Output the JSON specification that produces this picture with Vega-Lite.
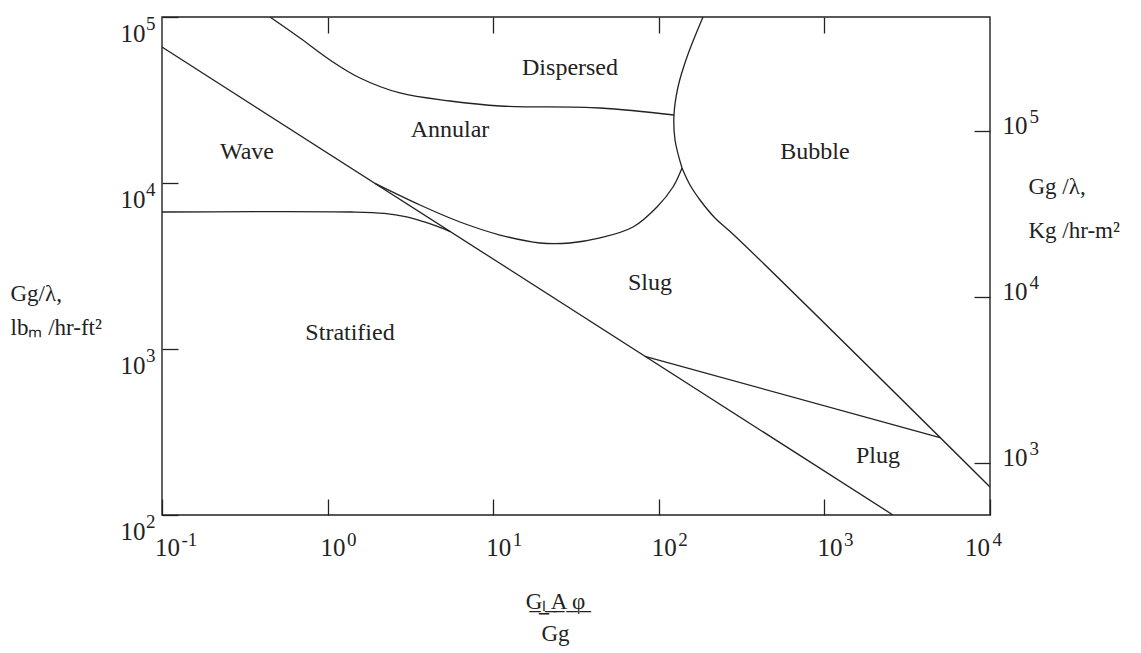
{
  "$schema": "https://vega.github.io/schema/vega-lite/v6.json",
  "width": 828,
  "height": 498,
  "autosize": {"type": "none"},
  "padding": {"left": 162, "top": 17, "right": 151, "bottom": 138},
  "background": "white",
  "config": {
    "view": {"stroke": null},
    "font": "Liberation Serif",
    "axis": {
      "grid": false,
      "domain": false,
      "tickColor": "#222",
      "tickWidth": 1.3,
      "tickSize": -16,
      "labelColor": "#222",
      "titleColor": "#222",
      "labelFont": "Liberation Serif",
      "titleFont": "Liberation Serif",
      "titleFontWeight": "normal",
      "labelOverlap": false,
      "labelFlush": false,
      "labelBaseline": "alphabetic"
    }
  },
  "datasets": {
    "straight": [
      {"boundary": "diagonal", "k": 0, "x": 0.1, "y": 65940},
      {"boundary": "diagonal", "k": 1, "x": 2595, "y": 100},
      {"boundary": "plug", "k": 0, "x": 82.5, "y": 904},
      {"boundary": "plug", "k": 1, "x": 4989, "y": 292}
    ],
    "curved": [
      {"boundary": "wave", "k": 0, "x": 0.1, "y": 6689},
      {"boundary": "wave", "k": 1, "x": 1.4, "y": 6689},
      {"boundary": "wave", "k": 2, "x": 2.2, "y": 6560},
      {"boundary": "wave", "k": 3, "x": 3.0, "y": 6250},
      {"boundary": "wave", "k": 4, "x": 3.8, "y": 5850},
      {"boundary": "wave", "k": 5, "x": 4.6, "y": 5480},
      {"boundary": "wave", "k": 6, "x": 5.5, "y": 5099},

      {"boundary": "annular", "k": 0, "x": 1.932, "y": 9950},
      {"boundary": "annular", "k": 1, "x": 3.614, "y": 7371},
      {"boundary": "annular", "k": 2, "x": 6.3, "y": 5823},
      {"boundary": "annular", "k": 3, "x": 10.99, "y": 4861},
      {"boundary": "annular", "k": 4, "x": 19.17, "y": 4351},
      {"boundary": "annular", "k": 5, "x": 29.09, "y": 4351},
      {"boundary": "annular", "k": 6, "x": 44.15, "y": 4664},
      {"boundary": "annular", "k": 7, "x": 69.9, "y": 5430},
      {"boundary": "annular", "k": 8, "x": 97.5, "y": 7167},
      {"boundary": "annular", "k": 9, "x": 121.8, "y": 9461},
      {"boundary": "annular", "k": 10, "x": 138.1, "y": 12312},

      {"boundary": "bubble_arc", "k": 0, "x": 184.9, "y": 100000},
      {"boundary": "bubble_arc", "k": 1, "x": 148.0, "y": 57410},
      {"boundary": "bubble_arc", "k": 2, "x": 130.6, "y": 37870},
      {"boundary": "bubble_arc", "k": 3, "x": 123.5, "y": 25680},
      {"boundary": "bubble_arc", "k": 4, "x": 125.3, "y": 18160},
      {"boundary": "bubble_arc", "k": 5, "x": 138.1, "y": 12312},

      {"boundary": "dispersed", "k": 0, "x": 0.449, "y": 100000},
      {"boundary": "dispersed", "k": 1, "x": 0.681, "y": 74720},
      {"boundary": "dispersed", "k": 2, "x": 1.034, "y": 55080},
      {"boundary": "dispersed", "k": 3, "x": 1.569, "y": 42910},
      {"boundary": "dispersed", "k": 4, "x": 2.736, "y": 34850},
      {"boundary": "dispersed", "k": 5, "x": 5.485, "y": 31190},
      {"boundary": "dispersed", "k": 6, "x": 10.99, "y": 29100},
      {"boundary": "dispersed", "k": 7, "x": 44.15, "y": 28300},
      {"boundary": "dispersed", "k": 8, "x": 123.5, "y": 25680},

      {"boundary": "bubble_slug", "k": 0, "x": 138.1, "y": 12312},
      {"boundary": "bubble_slug", "k": 1, "x": 154.3, "y": 9727},
      {"boundary": "bubble_slug", "k": 2, "x": 177.4, "y": 7900},
      {"boundary": "bubble_slug", "k": 3, "x": 218.4, "y": 6154},
      {"boundary": "bubble_slug", "k": 4, "x": 288.4, "y": 4795},
      {"boundary": "bubble_slug", "k": 5, "x": 10000, "y": 147.5}
    ],
    "regions": [
      {"region": "Wave", "x": 0.326, "y": 15370},
      {"region": "Annular", "x": 5.485, "y": 20860},
      {"region": "Dispersed", "x": 29.1, "y": 49290},
      {"region": "Bubble", "x": 877.5, "y": 15370},
      {"region": "Slug", "x": 88.5, "y": 2498},
      {"region": "Stratified", "x": 1.366, "y": 1248},
      {"region": "Plug", "x": 2107, "y": 226.7}
    ],
    "frame": [
      {"x": 0.1, "x2": 10000, "y": 100, "y2": 100000}
    ]
  },
  "resolve": {"axis": {"x": "independent", "y": "independent"}},
  "layer": [
    {
      "data": {"name": "straight"},
      "mark": {"type": "line", "color": "#222", "strokeWidth": 1.3, "clip": true},
      "encoding": {
        "x": {
          "field": "x",
          "type": "quantitative",
          "scale": {"type": "log", "domain": [0.1, 10000], "nice": false},
          "axis": {
            "orient": "bottom",
            "values": [0.1, 1, 10, 100, 1000, 10000],
            "labelExpr": "'10'",
            "labelFontSize": 25,
            "labelAlign": "center",
            "labelPadding": 56,
            "labelOffset": {"condition": {"test": "datum.value > 5000", "value": -13}, "value": 5},
            "title": ["G̲ₗ̲ ̲A̲ ̲φ̲", "Gg"],
            "titleFontSize": 23,
            "titleX": 393,
            "titleY": 93,
            "titleAlign": "center",
            "titleBaseline": "alphabetic",
            "titleLineHeight": 32
          }
        },
        "y": {
          "field": "y",
          "type": "quantitative",
          "scale": {"type": "log", "domain": [100, 100000], "nice": false},
          "axis": {
            "orient": "left",
            "values": [100, 1000, 10000, 100000],
            "labelExpr": "'10'",
            "labelFontSize": 25,
            "labelAlign": "right",
            "labelPadding": 33,
            "labelOffset": 24,
            "title": ["Gg/λ,", "lbₘ /hr-ft²"],
            "titleFontSize": 23,
            "titleAngle": 0,
            "titleAlign": "left",
            "titleBaseline": "alphabetic",
            "titleX": -152,
            "titleY": 283,
            "titleLineHeight": 34
          }
        },
        "detail": {"field": "boundary", "type": "nominal"},
        "order": {"field": "k", "type": "quantitative"}
      }
    },
    {
      "data": {"name": "curved"},
      "mark": {"type": "line", "color": "#222", "strokeWidth": 1.3, "interpolate": "catmull-rom", "clip": true},
      "encoding": {
        "x": {
          "field": "x",
          "type": "quantitative",
          "scale": {"type": "log", "domain": [0.1, 10000], "nice": false},
          "axis": {
            "orient": "bottom",
            "values": [0.1, 1, 10, 100, 1000, 10000],
            "labelExpr": "datum.value < 0.5 ? '-1' : datum.value < 5 ? '0' : datum.value < 50 ? '1' : datum.value < 500 ? '2' : datum.value < 5000 ? '3' : '4'",
            "labelFontSize": 19,
            "labelAlign": "left",
            "labelPadding": 46,
            "labelOffset": {"condition": {"test": "datum.value > 5000", "value": 2}, "value": 19},
            "tickOpacity": 0,
            "title": null
          }
        },
        "y": {
          "field": "y",
          "type": "quantitative",
          "scale": {"type": "log", "domain": [100, 100000], "nice": false},
          "axis": {
            "orient": "left",
            "values": [100, 1000, 10000, 100000],
            "labelExpr": "datum.value < 500 ? '2' : datum.value < 5000 ? '3' : datum.value < 50000 ? '4' : '5'",
            "labelFontSize": 19,
            "labelAlign": "right",
            "labelPadding": 23,
            "labelOffset": 12,
            "tickOpacity": 0,
            "title": null
          }
        },
        "detail": {"field": "boundary", "type": "nominal"},
        "order": {"field": "k", "type": "quantitative"}
      }
    },
    {
      "data": {"name": "regions"},
      "mark": {"type": "text", "font": "Liberation Serif", "fontSize": 24, "color": "#222", "align": "center", "baseline": "middle"},
      "encoding": {
        "x": {
          "field": "x",
          "type": "quantitative",
          "scale": {"type": "log", "domain": [0.1, 10000], "nice": false},
          "axis": {
            "orient": "top",
            "values": [1, 10, 100, 1000],
            "labels": false,
            "title": null
          }
        },
        "y": {
          "field": "y",
          "type": "quantitative",
          "scale": {"type": "log", "domain": [100, 100000], "nice": false},
          "axis": {
            "orient": "right",
            "values": [20481.6, 2048.16, 204.816],
            "labelExpr": "'10'",
            "labelFontSize": 25,
            "labelAlign": "left",
            "labelPadding": 28,
            "labelOffset": 2,
            "title": ["Gg /λ,", "Kg /hr-m²"],
            "titleFontSize": 23,
            "titleAngle": 0,
            "titleAlign": "left",
            "titleBaseline": "alphabetic",
            "titleX": 38,
            "titleY": 176,
            "titleLineHeight": 44
          }
        },
        "text": {"field": "region", "type": "nominal"}
      }
    },
    {
      "data": {"name": "frame"},
      "mark": {"type": "rect", "fillOpacity": 0, "stroke": "#222", "strokeWidth": 1.4},
      "encoding": {
        "x": {
          "field": "x",
          "type": "quantitative",
          "scale": {"type": "log", "domain": [0.1, 10000], "nice": false},
          "axis": null
        },
        "x2": {"field": "x2"},
        "y": {
          "field": "y",
          "type": "quantitative",
          "scale": {"type": "log", "domain": [100, 100000], "nice": false},
          "axis": {
            "orient": "right",
            "values": [20481.6, 2048.16, 204.816],
            "labelExpr": "datum.value > 10000 ? '5' : datum.value > 1000 ? '4' : '3'",
            "labelFontSize": 19,
            "labelAlign": "left",
            "labelPadding": 55,
            "labelOffset": -9,
            "tickOpacity": 0,
            "title": null
          }
        },
        "y2": {"field": "y2"}
      }
    }
  ]
}
